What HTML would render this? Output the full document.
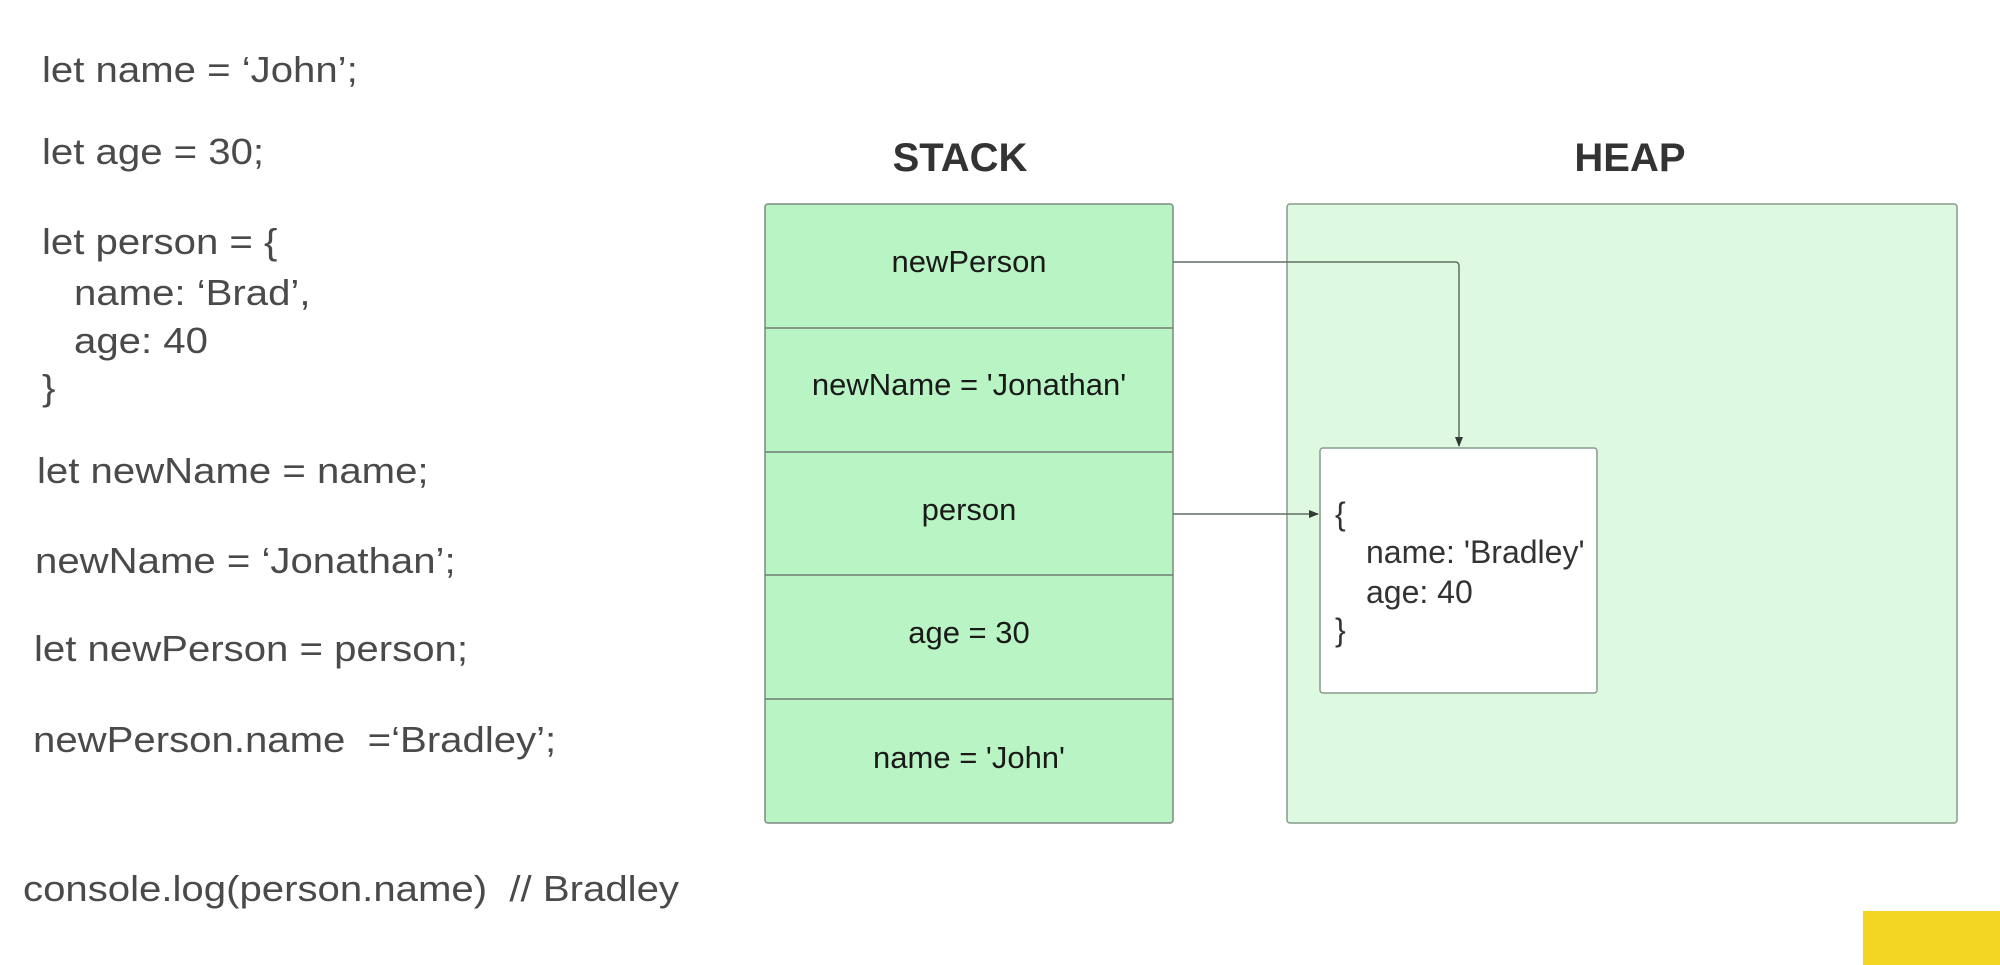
<!DOCTYPE html>
<html><head><meta charset="utf-8"><style>
html,body{margin:0;padding:0;background:#fff;}
body{width:2000px;height:965px;position:relative;overflow:hidden;font-family:"Liberation Sans",Arial,sans-serif;}
.c{position:absolute;font-size:36px;color:#4a4a4a;white-space:pre;line-height:1;transform:translateY(-50%) scaleX(1.115);transform-origin:left center;}
</style></head><body>
<div class="c" style="left:42px;top:70px">let name = ‘John’;</div>
<div class="c" style="left:42px;top:152px">let age = 30;</div>
<div class="c" style="left:42px;top:242px">let person = {</div>
<div class="c" style="left:74px;top:293px">name: ‘Brad’,</div>
<div class="c" style="left:74px;top:341px">age: 40</div>
<div class="c" style="left:42px;top:388px">}</div>
<div class="c" style="left:37px;top:471px">let newName = name;</div>
<div class="c" style="left:35px;top:561px">newName = ‘Jonathan’;</div>
<div class="c" style="left:34px;top:649px">let newPerson = person;</div>
<div class="c" style="left:33px;top:740px">newPerson.name  =‘Bradley’;</div>
<div class="c" style="left:23px;top:889px">console.log(person.name)  // Bradley</div>

<svg width="2000" height="965" style="position:absolute;left:0;top:0" xmlns="http://www.w3.org/2000/svg">
<defs><marker id="a" markerWidth="10" markerHeight="10" refX="9" refY="5" orient="auto" markerUnits="userSpaceOnUse"><path d="M0,1 L10,5 L0,9 z" fill="#2f3b33"/></marker></defs>
<text x="960" y="171" text-anchor="middle" font-family="Liberation Sans" font-weight="bold" font-size="40" fill="#333">STACK</text>
<text x="1630" y="171" text-anchor="middle" font-family="Liberation Sans" font-weight="bold" font-size="40" fill="#333">HEAP</text>
<rect x="765" y="204" width="408" height="619" rx="3" fill="#b9f4c4" stroke="#7a8a7e" stroke-width="1.5"/>
<g stroke="#6d7d71" stroke-width="1.5">
<line x1="765" y1="328" x2="1173" y2="328"/><line x1="765" y1="452" x2="1173" y2="452"/>
<line x1="765" y1="575" x2="1173" y2="575"/><line x1="765" y1="699" x2="1173" y2="699"/></g>
<g font-family="Liberation Sans" font-size="31" fill="#1a1a1a" text-anchor="middle">
<text x="969" y="272">newPerson</text>
<text x="969" y="395">newName = 'Jonathan'</text>
<text x="969" y="520">person</text>
<text x="969" y="643">age = 30</text>
<text x="969" y="768">name = 'John'</text></g>
<rect x="1287" y="204" width="670" height="619" rx="3" fill="#ddf9df" stroke="#8a9a8e" stroke-width="1.5"/>
<rect x="1320" y="448" width="277" height="245" rx="3" fill="#fff" stroke="#8a9a8e" stroke-width="1.5"/>
<path d="M1173,262 H1455 Q1459,262 1459,266 V446" fill="none" stroke="#5f6f63" stroke-width="1.5" marker-end="url(#a)"/>
<path d="M1173,514 H1318" fill="none" stroke="#5f6f63" stroke-width="1.5" marker-end="url(#a)"/>
<g font-family="Liberation Sans" font-size="32" fill="#333">
<text x="1335" y="525">{</text>
<text x="1366" y="563">name: 'Bradley'</text>
<text x="1366" y="603">age: 40</text>
<text x="1335" y="641">}</text></g>
<rect x="1863" y="911" width="137" height="54" fill="#f3d623"/>
</svg>
</body></html>
